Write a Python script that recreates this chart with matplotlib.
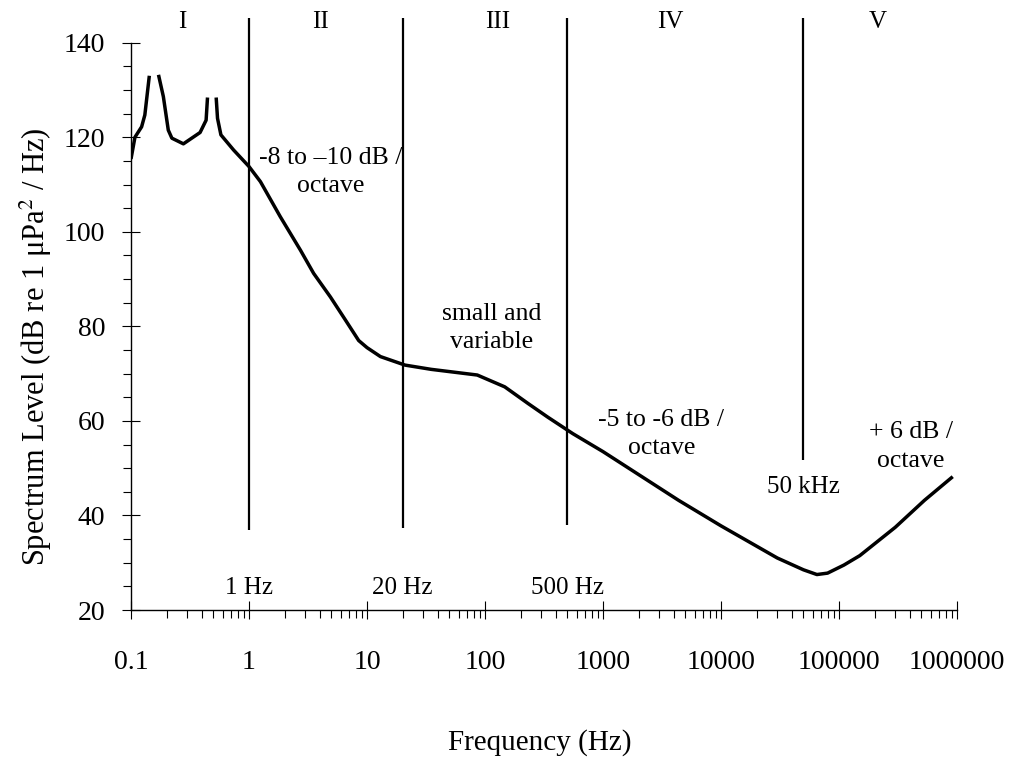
import numpy as np
import matplotlib
matplotlib.use("Agg")
import matplotlib.pyplot as plt
from matplotlib.ticker import FixedLocator, FuncFormatter, LogLocator, NullFormatter

# Ambient ocean noise spectrum (schematic), frequency in Hz and level in dB
freq_hz = [0.1, 0.108, 0.123, 0.131, 0.143, 0.157, 0.171, 0.188, 0.207, 0.222,
           0.278, 0.385, 0.433, 0.445, 0.485, 0.527, 0.541, 0.578, 0.74, 1.0,
           1.25, 1.84, 2.73, 3.53, 4.9, 6.5, 8.5, 10, 13, 21,
           35, 86, 147, 231, 340, 555, 1000, 4370, 10000, 30000,
           50000, 65000, 80000, 110000, 150000, 300000, 530000, 920000]
level_db = [115.4, 120.0, 122.2, 124.7, 133.0, np.nan, 133.2, 128.6, 121.5, 119.8,
            118.6, 121.0, 123.6, 128.4, np.nan, 128.4, 124.0, 120.5, 117.3, 113.8,
            110.6, 103.2, 96.1, 91.2, 86.2, 81.5, 77.0, 75.5, 73.6, 71.8,
            70.9, 69.7, 67.2, 63.7, 60.8, 57.3, 53.5, 43.2, 37.8, 31.0,
            28.5, 27.5, 27.8, 29.5, 31.5, 37.5, 43.2, 48.2]

# Band boundaries
boundary_hz = [1, 20, 500, 50000]
boundary_bottom_db = [37.0, 37.3, 38.0, 51.7]
boundary_labels = ["1 Hz", "20 Hz", "500 Hz", "50 kHz"]
boundary_label_db = [24.6, 24.6, 24.6, 46.0]

# Region numerals
region_names = ["I", "II", "III", "IV", "V"]
region_center_hz = [0.271, 4.03, 128.8, 3723, 214000]

# Slope notes
note_texts = ["-8 to \u201310 dB /\noctave", "small and\nvariable",
              "-5 to -6 dB /\noctave", "+ 6 dB /\noctave"]
note_hz = [4.9, 114, 3120, 404000]
note_db = [112.6, 79.7, 57.2, 54.6]

y_major = [20, 40, 60, 80, 100, 120, 140]
x_major = [0.1, 1, 10, 100, 1000, 10000, 100000, 1000000]

plt.rcParams["font.family"] = ["Liberation Serif", "DejaVu Serif"]
plt.rcParams["mathtext.fontset"] = "stix"

fig = plt.figure(figsize=(10.15, 7.6), dpi=100)
ax = fig.add_axes([131 / 1015, 150 / 760, 826 / 1015, 595.7 / 760])

ax.set_xscale("log")
ax.set_xlim(0.1, 1e6)
ax.set_ylim(20, 146)

ax.plot(freq_hz, level_db, color="black", lw=2.5, solid_joinstyle="round",
        solid_capstyle="butt")

ax.vlines(boundary_hz, boundary_bottom_db, 145.3, color="black", lw=1.6)

for lab, f, y in zip(boundary_labels, boundary_hz, boundary_label_db):
    ax.text(f, y, lab, ha="center", va="center", fontsize=18)

for name, f in zip(region_names, region_center_hz):
    ax.text(f, 144.4, name, ha="center", va="center", fontsize=18)

for txt, f, y in zip(note_texts, note_hz, note_db):
    ax.text(f, y, txt, ha="center", va="center", fontsize=18.5, linespacing=1.38)

for side in ("top", "right"):
    ax.spines[side].set_visible(False)
ax.spines["left"].set_bounds(20, 140)
ax.spines["left"].set_linewidth(1.0)
ax.spines["bottom"].set_linewidth(1.0)

ax.yaxis.set_major_locator(FixedLocator(y_major))
ax.yaxis.set_minor_locator(FixedLocator([v for v in range(20, 141, 5) if v % 20]))
ax.xaxis.set_major_locator(FixedLocator(x_major))
ax.xaxis.set_minor_locator(LogLocator(base=10, subs=np.arange(2, 10)))
ax.xaxis.set_minor_formatter(NullFormatter())
ax.xaxis.set_major_formatter(
    FuncFormatter(lambda v, _: "0.1" if v < 1 else f"{int(round(v))}"))

ax.tick_params(which="major", direction="inout", length=13, width=0.8,
               labelsize=20)
ax.tick_params(which="minor", direction="out", length=6, width=0.8)
ax.tick_params(axis="x", which="major", pad=22)
ax.tick_params(axis="y", which="major", pad=12)

fig.text(36 / 1015, 1 - 347 / 760,
         "Spectrum Level (dB re 1 \u03bcPa$^2$ / Hz)",
         rotation=90, ha="center", va="center", fontsize=22)
fig.text(540 / 1015, 1 - 743 / 760, "Frequency (Hz)",
         ha="center", va="center", fontsize=21)

fig.savefig("out.png", dpi=100)
